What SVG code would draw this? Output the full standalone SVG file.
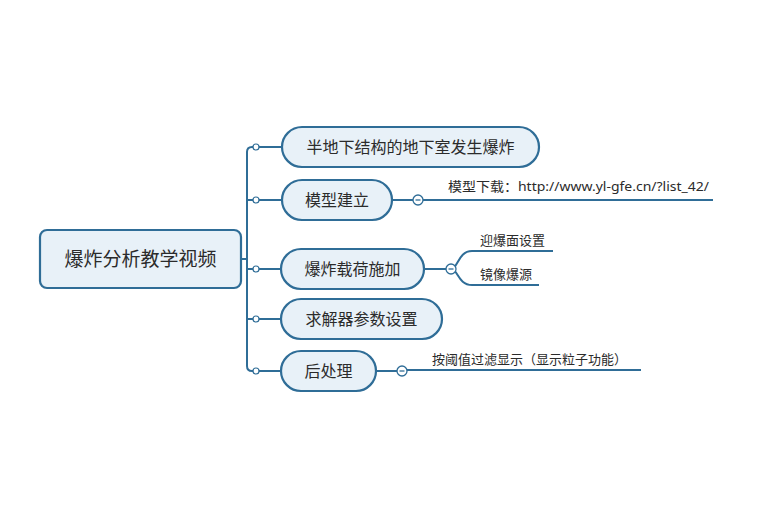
<svg xmlns="http://www.w3.org/2000/svg" width="768" height="507" viewBox="0 0 768 507">
<style>
.node{fill:#e8f1f8;stroke:#2f6d97;stroke-width:2.2}
.t{font-family:"Noto Sans CJK SC","Liberation Sans",sans-serif;fill:#2b2b2b}
.big{font-size:19px}
.mid{font-size:16px}
.sm{font-family:"Liberation Sans","Noto Sans CJK SC",sans-serif;font-size:13px;fill:#2b2b2b}
.url{font-family:"Noto Sans","Noto Sans CJK SC",sans-serif}
.ln{fill:none;stroke:#2f6d97;stroke-width:2}
.dot{fill:#ffffff;stroke:#2f6d97;stroke-width:1.2}
.col{fill:#ffffff;stroke:#2f6d97;stroke-width:1.3}
.minus{stroke:#2f6d97;stroke-width:1.3}
</style>
<rect width="768" height="507" fill="#ffffff"/>
<g id="connectors">
<path class="ln" d="M241 259 H247"/>
<path class="ln" d="M256 147 H252 Q247 147 247 152 V366 Q247 371 252 371 H256"/>
<path class="ln" d="M247 200 H282"/>
<path class="ln" d="M247 269 H281"/>
<path class="ln" d="M247 319 H281"/>
<path class="ln" d="M256 147 H282"/>
<path class="ln" d="M256 371 H281"/>
<circle class="dot" cx="256" cy="147" r="3"/>
<circle class="dot" cx="256" cy="200" r="3"/>
<circle class="dot" cx="256" cy="269" r="3"/>
<circle class="dot" cx="256" cy="319" r="3"/>
<circle class="dot" cx="256" cy="371" r="3"/>
<path class="ln" d="M392 200 H713"/>
<path class="ln" d="M424 269 H451"/>
<path class="ln" d="M451 269 C458 269 458 251 472 251 H553"/>
<path class="ln" d="M451 269 C458 269 458 285 472 285 H539"/>
<path class="ln" d="M376 371 H402 M402 370 H641"/>
<circle class="col" cx="418" cy="200" r="5"/>
<line class="minus" x1="415.5" y1="200" x2="420.5" y2="200"/>
<circle class="col" cx="451" cy="269" r="5"/>
<line class="minus" x1="448.5" y1="269" x2="453.5" y2="269"/>
<circle class="col" cx="402" cy="371" r="5"/>
<line class="minus" x1="399.5" y1="371" x2="404.5" y2="371"/>
</g>
<g id="root">
<rect class="node" x="40" y="230" width="201" height="58" rx="7"/>
<text class="t big" x="140.5" y="266" text-anchor="middle">爆炸分析教学视频</text>
</g>
<g id="n1">
<rect class="node" x="282" y="127" width="257" height="40" rx="20"/>
<text class="t mid" x="410.5" y="153" text-anchor="middle">半地下结构的地下室发生爆炸</text>
</g>
<g id="n2">
<rect class="node" x="282" y="180" width="110" height="40" rx="20"/>
<text class="t mid" x="337" y="206" text-anchor="middle">模型建立</text>
</g>
<g id="n3">
<rect class="node" x="281" y="249" width="143" height="40" rx="20"/>
<text class="t mid" x="352.5" y="275" text-anchor="middle">爆炸载荷施加</text>
</g>
<g id="n4">
<rect class="node" x="281" y="299" width="161" height="40" rx="20"/>
<text class="t mid" x="361.5" y="325" text-anchor="middle">求解器参数设置</text>
</g>
<g id="n5">
<rect class="node" x="281" y="351" width="95" height="40" rx="20"/>
<text class="t mid" x="328.5" y="377" text-anchor="middle">后处理</text>
</g>
<g id="l1">
<text class="sm url" x="448" y="191" textLength="261" lengthAdjust="spacingAndGlyphs">模型下载：http://www.yl-gfe.cn/?list_42/</text>
</g>
<g id="l2">
<text class="sm" x="480" y="245">迎爆面设置</text>
</g>
<g id="l3">
<text class="sm" x="480" y="279">镜像爆源</text>
</g>
<g id="l4">
<text class="sm" x="432" y="364">按阈值过滤显示（显示粒子功能）</text>
</g>
</svg>
